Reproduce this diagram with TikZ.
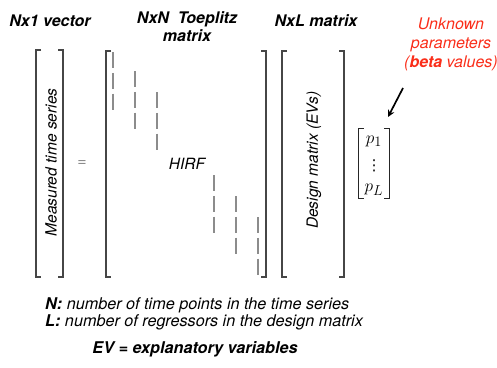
\documentclass[tikz,border=0pt]{standalone}
\usepackage{amsmath}
\usepackage{fontspec}
\setmainfont{TeX Gyre Heros}
\newfontfamily\symfnt{DejaVu Sans}
\usetikzlibrary{arrows.meta}
\definecolor{bracketgray}{RGB}{70,70,70}
\definecolor{dashgray}{RGB}{140,140,140}
\definecolor{labelred}{RGB}{250,45,25}
\tikzset{
  lbl/.style={font=\fontsize{16}{18}\selectfont\bfseries\itshape, inner sep=0pt, align=center},
  txt/.style={font=\fontsize{15.5}{18}\selectfont\itshape, inner sep=0pt},
  redtxt/.style={font=\fontsize{16}{19}\selectfont\itshape, text=labelred, inner sep=0pt, align=center},
  brk/.style={draw=bracketgray, line width=1.1pt},
  pbrk/.style={draw=black!85, line width=0.8pt},
  hirfdash/.style={draw=dashgray, line width=1.1pt},
  pent/.style={font=\fontsize{19}{21}\selectfont, inner sep=0pt},
  note/.style={font=\fontsize{16.2}{18}\selectfont\itshape, inner sep=0pt, anchor=west},
}
\newcommand{\lbrk}[4][brk]{\draw[#1] (#2+5,#3) -- (#2,#3) -- (#2,#4) -- (#2+5,#4);}
\newcommand{\rbrk}[4][brk]{\draw[#1] (#2-5,#3) -- (#2,#3) -- (#2,#4) -- (#2-5,#4);}
\newcommand{\dashcol}[2]{\foreach \i in {0,1,2} {\draw[hirfdash] (#1,{#2+20.8*\i}) -- (#1,{#2+20.8*\i+16});}}
\begin{document}
\begin{tikzpicture}[x=1pt,y=-1pt]
\useasboundingbox (0,0) rectangle (497,367);
% headings
\node[lbl] (h1) at (50,21) {Nx1 vector};
\node[lbl] (h2) at (187,27) {NxN\ \ Toeplitz\\matrix};
\node[lbl] (h3) at (316,21) {NxL matrix};
\node[redtxt] (beta) at (451,44) {Unknown\\parameters\\(\textbf{beta} values)};
% vector y
\lbrk{36}{50}{277}
\rbrk{63}{50}{277}
\node[txt, rotate=90] (y) at (51,162.5) {Measured time series};
\node[font=\fontsize{16}{18}\selectfont, inner sep=0pt, text=dashgray] (eq) at (82,163) {=};
% Toeplitz
\lbrk{106}{51}{277}
\rbrk{266}{51}{277}
\dashcol{113}{52}
\dashcol{135}{71}
\dashcol{157}{92}
\dashcol{214}{175}
\dashcol{236}{196}
\dashcol{258}{217}
\node[txt] (hirf) at (187,164) {HIRF};
% design matrix
\lbrk{282}{51}{277}
\rbrk{344}{51}{277}
\node[txt, rotate=90] (dm) at (314,160) {Design matrix (EVs)};
% parameter vector
\lbrk[pbrk]{358.5}{128}{198}
\rbrk[pbrk]{389}{128}{198}
\node[pent] (p1) at (374,141) {$p_1$};
\node[inner sep=0pt, font=\symfnt\fontsize{15}{15}\selectfont] (pd) at (374,166) {⋮};
\node[pent] (pL) at (374,190) {$p_L$};
\coordinate (atail) at (403,88);
\coordinate (ahead) at (388,117);
\draw[line width=1.7pt, -{Stealth[length=7pt,width=7pt]}] (atail) -- (ahead);
% notes
\node[note] (n1) at (45,305) {\textbf{N:} number of time points in the time series};
\node[note] (n2) at (45,322) {\textbf{L:} number of regressors in the design matrix};
\node[font=\fontsize{16.2}{18}\selectfont\bfseries\itshape, inner sep=0pt] (ev) at (195,349) {EV = explanatory variables};
\end{tikzpicture}
\end{document}
